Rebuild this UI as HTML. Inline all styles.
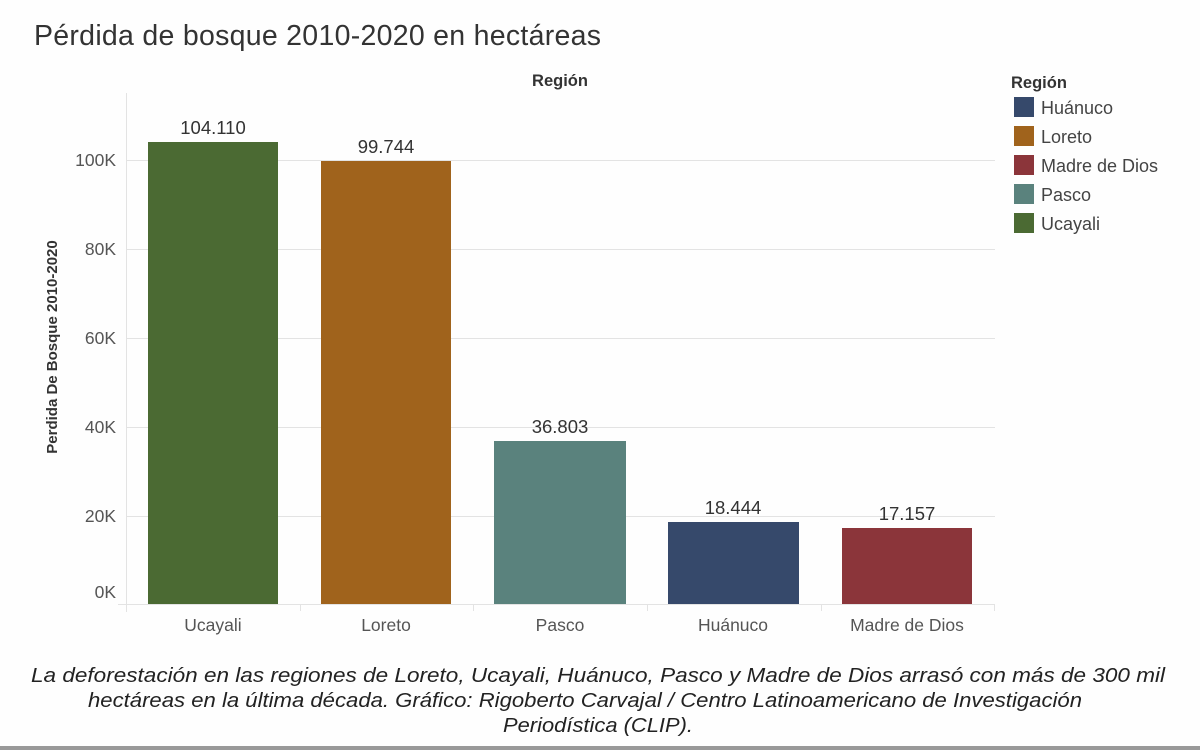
<!DOCTYPE html>
<html><head><meta charset="utf-8"><style>
body{margin:0;width:1200px;height:750px;background:#fff;font-family:"Liberation Sans",sans-serif;overflow:hidden;position:relative}
</style></head><body>
<svg width="1200" height="750" style="position:absolute;left:0;top:0" font-family="Liberation Sans, sans-serif">
<rect x="0" y="0" width="1200" height="750" fill="#fefefe"/>
<text x="34" y="45" font-size="28.5" fill="#333" textLength="567">Pérdida de bosque 2010-2020 en hectáreas</text>
<text x="560" y="86" font-size="16.5" font-weight="bold" fill="#333" text-anchor="middle">Región</text>
<g stroke="#e3e3e3" stroke-width="1">
<line x1="126" y1="160.5" x2="995" y2="160.5"/>
<line x1="126" y1="249.5" x2="995" y2="249.5"/>
<line x1="126" y1="338.5" x2="995" y2="338.5"/>
<line x1="126" y1="427.5" x2="995" y2="427.5"/>
<line x1="126" y1="516.5" x2="995" y2="516.5"/>
<line x1="118" y1="604.5" x2="995" y2="604.5"/>
<line x1="126.5" y1="93" x2="126.5" y2="612"/>
<line x1="300.5" y1="604" x2="300.5" y2="611"/>
<line x1="473.5" y1="604" x2="473.5" y2="611"/>
<line x1="647.5" y1="604" x2="647.5" y2="611"/>
<line x1="821.5" y1="604" x2="821.5" y2="611"/>
<line x1="994.5" y1="604" x2="994.5" y2="611"/>
</g>
<g font-size="17.5" fill="#555" text-anchor="end">
<text x="116" y="166">100K</text><text x="116" y="255">80K</text><text x="116" y="344">60K</text>
<text x="116" y="433">40K</text><text x="116" y="522">20K</text><text x="116" y="598">0K</text>
</g>
<text transform="translate(57,347) rotate(-90)" font-size="15" font-weight="bold" fill="#333" text-anchor="middle">Perdida De Bosque 2010-2020</text>
<rect x="148" y="142" width="130" height="462" fill="#4b6a33"/>
<rect x="321" y="161" width="130" height="443" fill="#a0631c"/>
<rect x="494" y="441" width="132" height="163" fill="#5a827d"/>
<rect x="668" y="522" width="131" height="82" fill="#36496b"/>
<rect x="842" y="528" width="130" height="76" fill="#8b353a"/>
<g font-size="18.5" fill="#333" text-anchor="middle">
<text x="213" y="134">104.110</text><text x="386" y="153">99.744</text><text x="560" y="433">36.803</text>
<text x="733" y="514">18.444</text><text x="907" y="520">17.157</text>
</g>
<g font-size="17.5" fill="#555" text-anchor="middle">
<text x="213" y="631">Ucayali</text><text x="386" y="631">Loreto</text><text x="560" y="631">Pasco</text>
<text x="733" y="631">Huánuco</text><text x="907" y="631">Madre de Dios</text>
</g>
<text x="1011" y="88" font-size="16.5" font-weight="bold" fill="#333">Región</text>
<g font-size="18" fill="#444">
<rect x="1014" y="97" width="20" height="20" fill="#36496b"/><text x="1041" y="114">Huánuco</text>
<rect x="1014" y="126" width="20" height="20" fill="#a0631c"/><text x="1041" y="143">Loreto</text>
<rect x="1014" y="155" width="20" height="20" fill="#8b353a"/><text x="1041" y="172">Madre de Dios</text>
<rect x="1014" y="184" width="20" height="20" fill="#5a827d"/><text x="1041" y="201">Pasco</text>
<rect x="1014" y="213" width="20" height="20" fill="#4b6a33"/><text x="1041" y="230">Ucayali</text>
</g>
<g font-size="20" font-style="italic" fill="#222">
<text x="31" y="682" textLength="1134" lengthAdjust="spacingAndGlyphs">La deforestación en las regiones de Loreto, Ucayali, Huánuco, Pasco y Madre de Dios arrasó con más de 300 mil</text>
<text x="88" y="707" textLength="994" lengthAdjust="spacingAndGlyphs">hectáreas en la última década. Gráfico: Rigoberto Carvajal / Centro Latinoamericano de Investigación</text>
<text x="503" y="732" textLength="190" lengthAdjust="spacingAndGlyphs">Periodística (CLIP).</text>
</g>
<rect x="0" y="746" width="1200" height="4" fill="#999"/>
</svg>
</body></html>
